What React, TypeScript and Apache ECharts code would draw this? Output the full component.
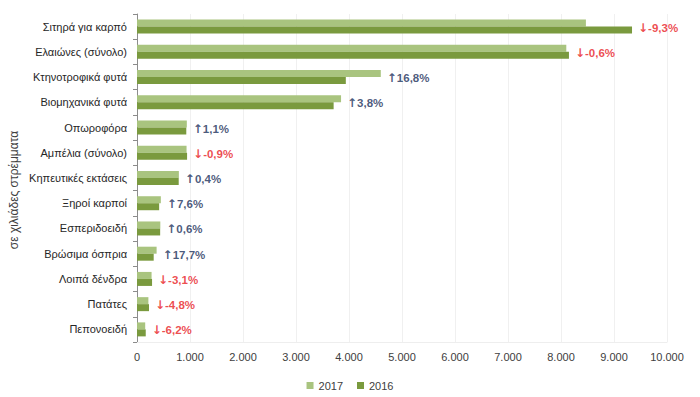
import React, { useEffect, useRef } from "react";
import * as echarts from "echarts";

const categories = [
  "Σιτηρά για καρπό",
  "Ελαιώνες (σύνολο)",
  "Κτηνοτροφικά φυτά",
  "Βιομηχανικά φυτά",
  "Οπωροφόρα",
  "Αμπέλια (σύνολο)",
  "Κηπευτικές εκτάσεις",
  "Ξηροί καρποί",
  "Εσπεριδοειδή",
  "Βρώσιμα όσπρια",
  "Λοιπά δένδρα",
  "Πατάτες",
  "Πεπονοειδή",
];
const values2017 = [8470, 8100, 4600, 3850, 940, 935, 790, 450, 440, 370, 275, 215, 155];
const values2016 = [9340, 8150, 3940, 3710, 930, 945, 787, 418, 437, 315, 284, 226, 165];
const changePct = [-9.3, -0.6, 16.8, 3.8, 1.1, -0.9, 0.4, 7.6, 0.6, 17.7, -3.1, -4.8, -6.2];
const xTicks = { min: 0, max: 10000, interval: 1000 };
const axisTitle = "σε χιλιάδες στρέμματα";

const FONT = "'Liberation Sans', Arial, sans-serif";
const ARROW_FONT = "'DejaVu Sans', sans-serif";
const UP_COLOR = "#1A2F5A";
const DN_COLOR = "#E8201F";

export default function App() {
  const ref = useRef<HTMLDivElement>(null);
  useEffect(() => {
    if (!ref.current) return;
    const chart = echarts.init(ref.current, null, { renderer: "svg" });
    const labelData = categories.map((c, i) => ({
      value: [Math.max(values2017[i], values2016[i]), c],
      change: changePct[i],
    }));
    chart.setOption({
      animation: false,
      backgroundColor: "#ffffff",
      textStyle: { fontFamily: FONT },
      grid: { left: 137, right: 33, top: 14, bottom: 55, containLabel: false },
      legend: {
        data: ["2017", "2016"],
        left: "center",
        top: 375,
        icon: "rect",
        itemWidth: 7,
        itemHeight: 7,
        itemGap: 14,
        textStyle: { fontSize: 11, color: "#404040", fontFamily: FONT },
      },
      graphic: [
        {
          type: "text",
          x: 14,
          y: 190,
          rotation: Math.PI / 2,
          style: {
            text: axisTitle,
            fontSize: 12,
            fontFamily: FONT,
            fill: "#404040",
            align: "center",
            verticalAlign: "middle",
          },
        },
      ],
      xAxis: {
        type: "value",
        min: xTicks.min,
        max: xTicks.max,
        interval: xTicks.interval,
        axisLine: { show: true, lineStyle: { color: "#EEEEEE" } },
        axisTick: { show: false },
        splitLine: { show: true, lineStyle: { color: "#F0F0F0" } },
        axisLabel: {
          fontSize: 11,
          color: "#404040",
          margin: 9,
          formatter: (v: number) =>
            v === 0 ? "0" : String(v).replace(/\B(?=(\d{3})+(?!\d))/g, "."),
        },
      },
      yAxis: {
        type: "category",
        data: categories,
        inverse: true,
        axisLine: { show: true, lineStyle: { color: "#8C8C8C" } },
        axisTick: { show: true, length: 4, lineStyle: { color: "#8C8C8C" } },
        axisLabel: { fontSize: 11, color: "#262626", margin: 10 },
      },
      series: [
        {
          name: "2017",
          type: "bar",
          data: values2017,
          barWidth: 7,
          barGap: "0%",
          itemStyle: { color: "#A9C47F" },
        },
        {
          name: "2016",
          type: "bar",
          data: values2016,
          barWidth: 7,
          barGap: "0%",
          itemStyle: { color: "#7A9A3E" },
        },
        {
          name: "labels",
          type: "scatter",
          symbolSize: 0,
          data: labelData,
          silent: true,
          label: {
            show: true,
            position: "right",
            distance: 6,
            offset: [0, 1],
            formatter: (p: any) => {
              const v = p.data.change as number;
              const s = v.toFixed(1).replace(".", ",");
              return v >= 0 ? `{ua|↑}{up|${s}%}` : `{da|↓}{dn|${s}%}`;
            },
            rich: {
              ua: { color: UP_COLOR, fontWeight: "bold", fontSize: 12, fontFamily: ARROW_FONT },
              da: { color: DN_COLOR, fontWeight: "bold", fontSize: 12, fontFamily: ARROW_FONT },
              up: { color: UP_COLOR, fontWeight: "bold", fontSize: 11.5, fontFamily: FONT },
              dn: { color: DN_COLOR, fontWeight: "bold", fontSize: 11.5, fontFamily: FONT },
            },
          },
        },
      ],
    });
    return () => chart.dispose();
  }, []);
  return (
    <div
      ref={ref}
      style={{ position: "fixed", left: 0, top: 0, width: 700, height: 397, background: "#fff" }}
    />
  );
}
